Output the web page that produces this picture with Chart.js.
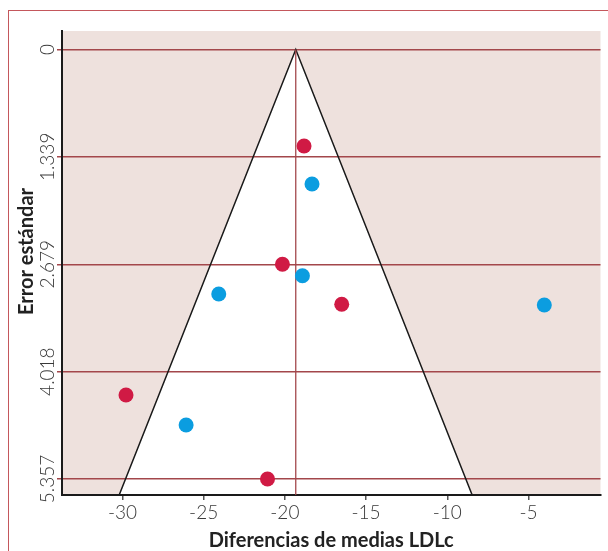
<!DOCTYPE html>
<html>
<head>
<meta charset="utf-8">
<script src="https://cdn.jsdelivr.net/npm/chart.js@4"></script>
<style>
  html, body { margin: 0; padding: 0; background: #fff; overflow: hidden; }
  #wrap { position: relative; width: 608px; height: 551px; }
  #frame { position: absolute; left: 8px; top: 10px; width: 700px; height: 700px;
           border-top: 1.5px solid #c4575c; border-left: 1.5px solid #c4575c; }
  canvas { position: absolute; left: 0; top: 0; }
</style>
</head>
<body>
<div id="wrap">
  <div id="frame"></div>
  <canvas id="funnel" width="608" height="551"></canvas>
</div>
<script>
// ===== data =====
const redX = [-18.82, -20.15, -16.50, -29.78, -21.07];
const redY = [1.204, 2.679, 3.178, 4.31, 5.357];
const blueX = [-18.33, -18.92, -24.07, -4.03, -26.08];
const blueY = [1.678, 2.822, 3.05, 3.187, 4.684];

const xTicks = [-30, -25, -20, -15, -10, -5];
const yTicks = [0, 1.339, 2.679, 4.018, 5.357];
const yTickLabels = ["0", "1.339", "2.679", "4.018", "5.357"];

// funnel (95% limits) and pooled mean line
const funnelX = [-30.2, -19.33, -8.47];
const funnelY = [5.557, 0, 5.557];
const meanX = [-19.33, -19.33];
const meanY = [0, 5.557];

const toPts = (xs, ys) => xs.map((x, i) => ({ x: x, y: ys[i] }));

// pink background + white funnel, under the grid
const backdrop = {
  id: "backdrop",
  beforeDraw(chart) {
    const { ctx, chartArea: a, scales: { x, y } } = chart;
    ctx.save();
    ctx.fillStyle = "#eee1dd";
    ctx.fillRect(a.left, a.top, a.right - a.left, a.bottom - a.top);
    ctx.beginPath();
    funnelX.forEach((v, i) => {
      const px = x.getPixelForValue(v), py = y.getPixelForValue(funnelY[i]);
      i === 0 ? ctx.moveTo(px, py) : ctx.lineTo(px, py);
    });
    ctx.closePath();
    ctx.fillStyle = "#ffffff";
    ctx.fill();
    ctx.restore();
  }
};

// vertical tick labels and y title
const yLabels = {
  id: "yLabels",
  afterDraw(chart) {
    const { ctx, scales: { y } } = chart;
    ctx.save();
    ctx.fillStyle = "#383838";
    ctx.textAlign = "center";
    ctx.textBaseline = "middle";
    ctx.font = "300 19px Lato";
    yTicks.forEach((v, i) => {
      ctx.save();
      ctx.translate(47.5, y.getPixelForValue(v));
      ctx.rotate(-Math.PI / 2);
      ctx.fillText(yTickLabels[i], 0, 0);
      ctx.restore();
    });
    ctx.fillStyle = "#222";
    ctx.font = "bold 20px Lato";
    ctx.translate(26.5, 251.5);
    ctx.rotate(-Math.PI / 2);
    ctx.fillText("Error estándar", 0, 0);
    ctx.restore();
  }
};

new Chart(document.getElementById("funnel"), {
  type: "scatter",
  data: {
    datasets: [
      { data: toPts(redX, redY), backgroundColor: "#d01a44", pointRadius: 7.5, borderWidth: 0, order: 1 },
      { data: toPts(blueX, blueY), backgroundColor: "#0b9de0", pointRadius: 7.5, borderWidth: 0, order: 1 },
      { data: toPts(funnelX, funnelY), showLine: true, borderColor: "#1a1a1a", borderWidth: 1.5,
        pointRadius: 0, fill: false, order: 3 },
      { data: toPts(meanX, meanY), showLine: true, borderColor: "#a3474b", borderWidth: 1.3,
        pointRadius: 0, fill: false, order: 2 }
    ]
  },
  options: {
    responsive: false,
    animation: false,
    events: [],
    layout: { padding: { top: 31, right: 7, left: 0, bottom: 0 } },
    plugins: { legend: { display: false }, tooltip: { enabled: false } },
    scales: {
      x: {
        type: "linear",
        min: -33.72,
        max: -0.57,
        afterBuildTicks: s => { s.ticks = xTicks.map(v => ({ value: v })); },
        afterFit: s => { s.height = 56; },
        ticks: { font: { family: "Lato", size: 19, weight: "300" }, color: "#383838", padding: 1,
                 maxRotation: 0, autoSkip: false, callback: v => String(v) },
        grid: { drawOnChartArea: false, drawTicks: true, tickLength: 5, color: "#555", lineWidth: 1.5 },
        border: { color: "#1a1a1a", width: 2 },
        title: { display: true, text: "Diferencias de medias LDLc", color: "#222", padding: 0,
                 font: { family: "Lato", size: 20, weight: "bold", lineHeight: 1 } }
      },
      y: {
        type: "linear",
        reverse: true,
        min: -0.231,
        max: 5.557,
        afterBuildTicks: s => { s.ticks = yTicks.map(v => ({ value: v })); },
        afterFit: s => { s.width = 62; },
        ticks: { display: false },
        grid: { color: "#a3474b", lineWidth: 1.5, tickLength: 5, drawTicks: true },
        border: { color: "#1a1a1a", width: 2 }
      }
    }
  },
  plugins: [backdrop, yLabels]
});
</script>
</body>
</html>
